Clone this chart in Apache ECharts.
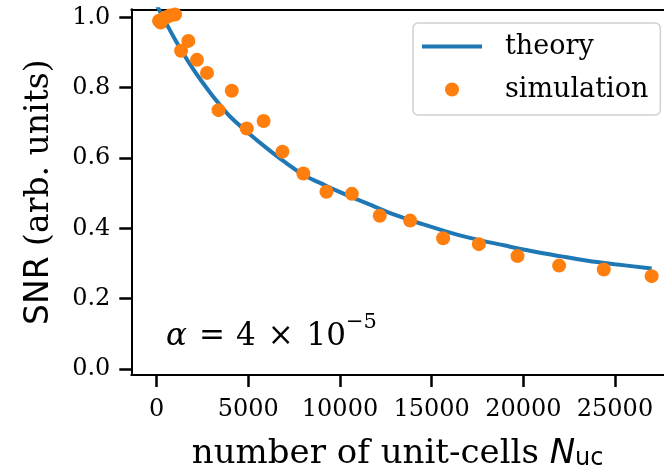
<!DOCTYPE html>
<html>
<head>
<meta charset="utf-8">
<script src="https://cdn.jsdelivr.net/npm/echarts@6/dist/echarts.min.js"></script>
<style>
html,body{margin:0;padding:0;background:#fff;}
#chart{width:664px;height:473px;}
</style>
</head>
<body>
<div id="chart"></div>
<script>
// ---- data ----
var theoryN = [0, 500, 1000, 1500, 2000, 2500, 3000, 3500, 4000, 5000, 6000, 7000, 8000, 9000, 10000, 11500, 13000, 14500, 16000, 17500, 19000, 20500, 22000, 23500, 25000, 27000];
var theoryV = [1.035, 0.985, 0.937, 0.893, 0.852, 0.815, 0.780, 0.748, 0.718, 0.671, 0.628, 0.588, 0.552, 0.527, 0.503, 0.470, 0.438, 0.412, 0.388, 0.368, 0.351, 0.335, 0.321, 0.308, 0.298, 0.286];

var simN = [125, 216, 343, 512, 729, 1000, 1331, 1728, 2197, 2744, 3375, 4096, 4913, 5832, 6859, 8000, 9261, 10648, 12167, 13824, 15625, 17576, 19683, 21952, 24389, 27000];
var simV = [0.990, 0.985, 0.995, 1.000, 1.005, 1.008, 0.905, 0.933, 0.879, 0.842, 0.736, 0.791, 0.684, 0.705, 0.618, 0.556, 0.504, 0.498, 0.436, 0.422, 0.372, 0.355, 0.321, 0.294, 0.283, 0.264];

var xTicks = [0, 5000, 10000, 15000, 20000, 25000];
var yTicks = [0.0, 0.2, 0.4, 0.6, 0.8, 1.0];

var xMin = -1385, xMax = 27674;
var yMin = -0.017, yMax = 1.0228;

function pairs(a, b) { return a.map(function (v, i) { return [v, b[i]]; }); }

var serif = "'DejaVu Serif', serif";
var sans = "'DejaVu Sans', sans-serif";

var chart = echarts.init(document.getElementById('chart'), null, {renderer: 'canvas'});
chart.setOption({
  animation: false,
  backgroundColor: '#ffffff',
  grid: {left: 131.3, top: 9.3, right: 0, bottom: 98, outerBoundsMode: 'none', containLabel: false},
  legend: {
    data: [{name: 'theory', icon: 'path://M0 0H60V4H0Z'}, {name: 'simulation', icon: 'circle'}],
    orient: 'vertical',
    left: 413, top: 23,
    padding: [10, 12, 12, 9],
    itemWidth: 60, itemHeight: 14, itemGap: 16,
    backgroundColor: '#ffffff',
    borderColor: '#d0d0d0', borderWidth: 1.5, borderRadius: 5,
    textStyle: {fontFamily: serif, fontSize: 27, color: '#000', padding: [0, 0, 0, 18]}
  },
  xAxis: [{
    type: 'value', min: xMin, max: xMax, position: 'bottom',
    splitLine: {show: false},
    axisLine: {show: true, onZero: false, lineStyle: {color: '#000', width: 2}},
    axisTick: {show: true, length: 12, lineStyle: {color: '#000', width: 2.5}, customValues: xTicks},
    axisLabel: {customValues: xTicks, fontFamily: serif, fontSize: 24, color: '#000', margin: 23,
      formatter: function (v) { return String(v); }},
    name: '{s|number of unit-cells }{n|N}{u|uc}',
    nameLocation: 'middle', nameGap: 62,
    nameTextStyle: {
      rich: {
        s: {fontFamily: serif, fontSize: 34, color: '#000'},
        n: {fontFamily: sans, fontStyle: 'italic', fontSize: 34, color: '#000'},
        u: {fontFamily: sans, fontSize: 24, color: '#000', verticalAlign: 'bottom'}
      }
    }
  }, {
    type: 'value', min: xMin, max: xMax, position: 'top',
    splitLine: {show: false},
    axisLine: {show: true, onZero: false, lineStyle: {color: '#000', width: 2}},
    axisTick: {show: false}, axisLabel: {show: false}
  }],
  yAxis: {
    type: 'value', min: yMin, max: yMax,
    splitLine: {show: false},
    axisLine: {show: true, onZero: false, lineStyle: {color: '#000', width: 2}},
    axisTick: {show: true, length: 12, lineStyle: {color: '#000', width: 2.5}, customValues: yTicks},
    axisLabel: {customValues: yTicks, fontFamily: serif, fontSize: 24, color: '#000', margin: 21,
      formatter: function (v) { return v.toFixed(1); }},
    name: '{a|SNR}{b| (arb. units)}',
    nameLocation: 'middle', nameRotate: 90, nameGap: 75,
    nameTextStyle: {
      rich: {
        a: {fontFamily: sans, fontSize: 33, color: '#000'},
        b: {fontFamily: serif, fontSize: 33, color: '#000'}
      }
    }
  },
  graphic: [{
    type: 'text', left: 166, top: 321,
    style: {
      text: '{a|α}{e|=}{d|4}{x|×}{t|10}',
      rich: {
        a: {fontFamily: serif, fontStyle: 'italic', fontSize: 31, fill: '#000'},
        e: {fontFamily: serif, fontSize: 31, fill: '#000', padding: [0, 0, 0, 12]},
        d: {fontFamily: serif, fontSize: 31, fill: '#000', padding: [0, 0, 0, 11]},
        x: {fontFamily: serif, fontSize: 31, fill: '#000', padding: [0, 0, 0, 12]},
        t: {fontFamily: serif, fontSize: 31, fill: '#000', padding: [0, 0, 0, 13]}
      }
    }
  }, {
    type: 'text', left: 346, top: 312,
    style: {text: '−5', fontFamily: serif, fontSize: 21, fill: '#000'}
  }],
  series: [{
    name: 'theory', type: 'line', xAxisIndex: 0,
    data: pairs(theoryN, theoryV),
    symbol: 'none', smooth: 0.4, clip: true,
    lineStyle: {color: '#1f77b4', width: 4},
    itemStyle: {color: '#1f77b4'},
    z: 2
  }, {
    name: 'simulation', type: 'scatter', xAxisIndex: 0,
    data: pairs(simN, simV),
    symbol: 'circle', symbolSize: 14,
    itemStyle: {color: '#ff7f0e', opacity: 1},
    z: 3
  }]
});
</script>
</body>
</html>
